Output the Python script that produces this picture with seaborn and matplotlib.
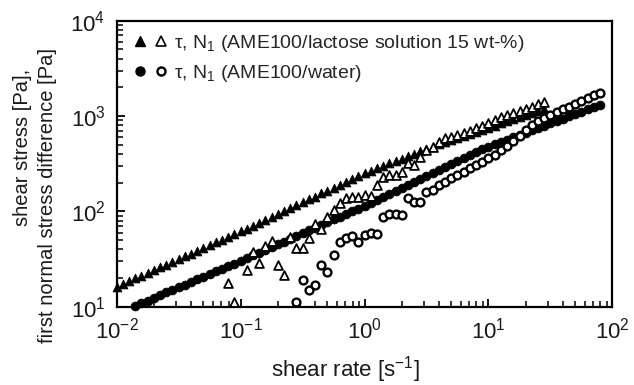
import numpy as np
import pandas as pd
import seaborn as sns
import matplotlib
matplotlib.use("Agg")
import matplotlib.pyplot as plt
from matplotlib.lines import Line2D
from matplotlib.legend_handler import HandlerTuple

nan = float("nan")

# shear rate grid, AME100 / lactose solution 15 wt-%
rate_lac = [0.0100, 0.0112, 0.0126, 0.0141, 0.0158, 0.0178, 0.0200, 0.0224, 0.0251, 0.0282,
            0.0316, 0.0355, 0.0398, 0.0447, 0.0501, 0.0562, 0.0631, 0.0708, 0.0794, 0.0891,
            0.100, 0.112, 0.126, 0.141, 0.158, 0.178, 0.200, 0.224, 0.251, 0.282,
            0.316, 0.355, 0.398, 0.447, 0.501, 0.562, 0.631, 0.708, 0.794, 0.891,
            1.00, 1.12, 1.26, 1.41, 1.58, 1.78, 2.00, 2.24, 2.51, 2.82,
            3.16, 3.55, 3.98, 4.47, 5.01, 5.62, 6.31, 7.08, 7.94, 8.91,
            10.0, 11.2, 12.6, 14.1, 15.8, 17.8, 20.0, 22.4, 25.1, 28.2]
tau_lac = [16.2, 17.3, 18.5, 19.8, 21.2, 22.6, 24.2, 25.9, 27.7, 29.6,
           31.6, 33.8, 36.1, 38.6, 41.3, 44.2, 47.2, 50.5, 54.0, 57.7,
           61.7, 66.1, 71.0, 76.1, 81.7, 87.6, 94.0, 101, 108, 116,
           124, 134, 143, 154, 165, 177, 190, 203, 218, 234,
           251, 266, 282, 300, 318, 337, 357, 379, 402, 426,
           452, 479, 504, 530, 557, 586, 617, 649, 682, 718,
           755, 794, 836, 879, 925, 973, 1023, 1076, 1132, 1191]
n1_lac = [nan, nan, nan, nan, nan, nan, nan, nan, nan, nan,
          nan, nan, nan, nan, nan, nan, nan, nan, 17.6, 11.3,
          nan, 24.5, 37.2, 28.5, 43.2, 49.3, 27.4, 21.5, 54.3, 41.0,
          41.0, 52.2, 73.8, 64.9, 87.9, 104, 122, 137, 143, 143,
          150, 145, 189, 231, 241, 241, 257, 320, 307, 375,
          441, 478, 538, 585, 608, 634, 670, 703, 745, 787,
          839, 910, 966, 1023, 1072, 1122, 1189, 1259, 1334, 1416]

# shear rate grid, AME100 / water
rate_wat = [0.0141, 0.0158, 0.0178, 0.0200, 0.0224, 0.0251, 0.0282, 0.0316, 0.0355, 0.0398,
            0.0447, 0.0501, 0.0562, 0.0631, 0.0708, 0.0794, 0.0891, 0.100, 0.112, 0.126,
            0.141, 0.158, 0.178, 0.200, 0.224, 0.251, 0.282, 0.316, 0.355, 0.398,
            0.447, 0.501, 0.562, 0.631, 0.708, 0.794, 0.891, 1.00, 1.12, 1.26,
            1.41, 1.58, 1.78, 2.00, 2.24, 2.51, 2.82, 3.16, 3.55, 3.98,
            4.47, 5.01, 5.62, 6.31, 7.08, 7.94, 8.91, 10.0, 11.2, 12.6,
            14.1, 15.8, 17.8, 20.0, 22.4, 25.1, 28.2, 31.6, 35.5, 39.8,
            44.7, 50.1, 56.2, 63.1, 70.8, 79.4]
tau_wat = [10.2, 10.9, 11.6, 12.4, 13.2, 14.1, 15.0, 16.0, 17.0, 18.2,
           19.4, 20.6, 22.0, 23.4, 24.9, 26.6, 28.3, 30.2, 32.3, 34.5,
           36.9, 39.4, 42.2, 45.1, 48.2, 51.5, 55.1, 58.9, 63.0, 67.3,
           71.9, 76.9, 82.2, 87.9, 94.0, 100, 107, 115, 123, 132,
           142, 153, 164, 176, 189, 203, 218, 234, 252, 270,
           290, 312, 335, 360, 386, 415, 446, 479, 506, 536,
           566, 600, 634, 671, 710, 752, 794, 839, 889, 940,
           995, 1052, 1114, 1178, 1247, 1318]
n1_wat = [nan, nan, nan, nan, nan, nan, nan, nan, nan, nan,
          nan, nan, nan, nan, nan, nan, nan, nan, nan, nan,
          nan, nan, nan, nan, nan, nan, 11.3, 19.1, 15.0, 16.9,
          27.4, 23.3, 34.8, 48.1, 52.2, 55.2, 48.1, 56.5, 59.7, 57.9,
          87.9, 94.0, 94.0, 91.6, 139, 126, 126, 161, 168, 189,
          205, 222, 241, 261, 283, 307, 332, 361, 391, 437,
          490, 550, 617, 708, 813, 891, 955, 1023, 1096, 1175,
          1259, 1349, 1445, 1549, 1660, 1758]

legend_labels = ["\u03c4, N$_1$ (AME100/lactose solution 15 wt-%)",
                 "\u03c4, N$_1$ (AME100/water)"]
x_label = "shear rate [s$^{-1}$]"
y_label_1 = "shear stress [Pa],"
y_label_2 = "first normal stress difference [Pa]"

sns.set_theme(style="white")
plt.rcParams["font.family"] = ["Liberation Sans", "DejaVu Sans"]
plt.rcParams["mathtext.fontset"] = "custom"
plt.rcParams["mathtext.rm"] = "Liberation Sans"
plt.rcParams["mathtext.it"] = "Liberation Sans:italic"
plt.rcParams["mathtext.bf"] = "Liberation Sans:bold"

df_lac = pd.DataFrame({"rate": rate_lac, "tau": tau_lac, "n1": n1_lac})
df_wat = pd.DataFrame({"rate": rate_wat, "tau": tau_wat, "n1": n1_wat})

fig = plt.figure(figsize=(6.34, 3.85), dpi=100)
ax = fig.add_axes([0.184, 0.2034, 0.782, 0.7428])

ms = 40
sns.scatterplot(data=df_lac, x="rate", y="tau", marker="^", s=ms, color="black",
                edgecolor="black", linewidth=0.6, ax=ax, clip_on=False, zorder=3)
sns.scatterplot(data=df_wat, x="rate", y="tau", marker="o", s=ms, color="black",
                edgecolor="black", linewidth=0.6, ax=ax, clip_on=False, zorder=3)
sns.scatterplot(data=df_lac.dropna(), x="rate", y="n1", marker="^", s=ms, facecolor="white",
                edgecolor="black", linewidth=1.3, ax=ax, clip_on=False, zorder=4)
sns.scatterplot(data=df_wat.dropna(), x="rate", y="n1", marker="o", s=ms - 8, facecolor="white",
                edgecolor="black", linewidth=1.7, ax=ax, clip_on=False, zorder=4)

ax.set_xscale("log")
ax.set_yscale("log")
ax.set_xlim(1e-2, 1e2)
ax.set_ylim(1e1, 1e4)

for s in ax.spines.values():
    s.set_linewidth(1.6)
    s.set_color("black")

ax.tick_params(which="both", direction="in", top=False, right=False,
               bottom=True, left=True, colors="black")
ax.tick_params(which="major", length=6, width=1.3, labelsize=16, pad=8,
               labelcolor="#1a1a1a")
ax.tick_params(which="minor", length=4, width=1.1)
ax.xaxis.set_major_locator(matplotlib.ticker.LogLocator(base=10, numticks=10))
ax.xaxis.set_minor_locator(matplotlib.ticker.LogLocator(base=10, subs=np.arange(2, 10), numticks=10))
ax.yaxis.set_minor_locator(matplotlib.ticker.LogLocator(base=10, subs=np.arange(2, 10), numticks=10))

ax.set_xlabel(x_label, fontsize=16, color="#1a1a1a")
ax.xaxis.set_label_coords(0.462, -0.221)
ax.xaxis.label.set_va("center")
ax.set_ylabel("")
fig.text(0.036, 0.616, y_label_1, rotation=90, ha="center", va="center",
         fontsize=14.5, color="#1a1a1a")
fig.text(0.075, 0.491, y_label_2, rotation=90, ha="center", va="center",
         fontsize=14.5, color="#1a1a1a")

h1 = (Line2D([], [], marker="^", linestyle="", color="black", markersize=6.5),
      Line2D([], [], marker="^", linestyle="", markerfacecolor="white",
             markeredgecolor="black", markeredgewidth=1.2, markersize=6.5))
h2 = (Line2D([], [], marker="o", linestyle="", color="black", markersize=6.5),
      Line2D([], [], marker="o", linestyle="", markerfacecolor="white",
             markeredgecolor="black", markeredgewidth=1.7, markersize=5.8))
ax.legend([h1, h2], legend_labels, handler_map={tuple: HandlerTuple(ndivide=None, pad=0.7)},
          loc="upper left", frameon=False, fontsize=14, handlelength=1.4,
          handletextpad=0.5, labelspacing=0.45, borderaxespad=0.0,
          bbox_to_anchor=(0.025, 0.985))

fig.savefig("out.png", dpi=100)
